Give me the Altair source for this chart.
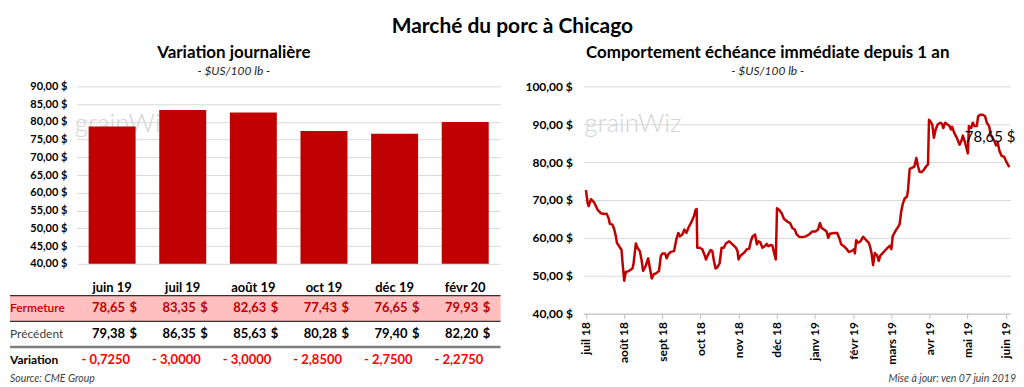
import json
import altair as alt
import pandas as pd

FONT = "Lato"
ROUGE = "#C00000"

# ---------- Données : variation journalière ----------
mois = ["juin 19", "juil 19", "août 19", "oct 19", "déc 19", "févr 20"]
fermeture = [78.65, 83.35, 82.63, 77.43, 76.65, 79.93]
precedent = [79.38, 86.35, 85.63, 80.28, 79.40, 82.20]
variation = [-0.7250, -3.0000, -3.0000, -2.8500, -2.7500, -2.2750]
lignes = ["Fermeture", "Précédent", "Variation"]

# ---------- Données : échéance immédiate (jours depuis le 1er juillet 2018) ----------
jours = [0.1, 1.5, 2.3, 4.1, 6.8, 9.4, 12.1, 14.7, 16.6, 18.2, 19.2, 21.3, 22.7, 24.0, 24.8,
         26.6, 28.5, 29.3, 30.6, 31.9, 34.6, 37.2, 38.0, 39.9, 41.2, 43.1, 44.4, 45.7, 47.8,
         49.7, 51.3, 52.6, 54.2, 56.3, 58.4, 59.8, 61.1, 63.2, 64.5, 65.9, 67.7, 70.4, 72.2,
         73.8, 75.1, 77.0, 78.6, 80.2, 82.3, 84.4, 86.3, 87.6, 88.4, 88.9, 90.8, 92.9, 95.0,
         95.8, 97.7, 99.5, 100.9, 102.2, 103.5, 104.8, 106.7, 108.3, 110.1,
         111.7, 114.4, 117.0, 119.7, 121.0, 121.8, 123.1, 126.3, 128.4, 130.3, 131.6, 132.9,
         135.0, 136.4, 137.7, 139.0, 140.9, 142.7, 144.3, 145.6, 147.5, 148.8, 150.1, 151.5,
         152.5, 154.1, 156.2, 158.1, 160.7, 162.9, 164.7, 166.6, 168.2, 170.0, 172.7, 175.4,
         178.0, 180.7, 183.3, 185.2, 186.7, 188.1, 189.9, 192.0, 193.4, 194.7, 197.9, 200.5,
         202.4, 203.7, 205.8, 207.9, 209.8, 211.9, 213.8, 214.6, 215.6, 217.2, 219.1, 221.2,
         223.0, 225.7,
         226.5, 227.8, 229.1, 230.5, 232.4, 233.6, 235.0, 237.1, 239.0, 241.0, 242.4, 243.7,
         244.8, 246.9, 248.7, 250.3, 251.4, 252.7, 254.3, 256.2, 257.0, 258.3, 260.1, 262.0,
         263.6, 264.9, 266.2, 268.1, 269.9, 271.5, 272.9, 273.7, 274.7, 276.3, 277.6, 279.0,
         280.6, 282.7, 284.0, 285.1, 286.6, 288.5, 290.1, 291.2, 292.2, 293.8, 295.9, 298.1,
         299.4, 300.7, 302.5, 303.9, 304.7, 305.5, 307.3, 308.7, 310.0, 311.8, 312.9, 314.5,
         316.6, 318.4, 319.8, 321.6, 322.9, 324.3, 325.9, 327.2, 328.5, 329.9, 331.7, 333.6,
         335.1, 336.5, 337.8]
prix = [72.6, 69.1, 68.4, 70.2, 69.3, 67.4, 66.5, 66.3, 66.4, 65.2, 63.7, 63.5, 62.2, 60.4, 58.7,
        57.8, 56.8, 53.5, 48.7, 51.0, 51.3, 51.9, 53.0, 58.5, 57.4, 56.5, 54.3, 51.3, 52.6,
        54.6, 51.7, 49.3, 50.4, 50.7, 51.3, 55.2, 55.9, 55.9, 54.6, 55.7, 56.3, 56.5, 59.6,
        61.3, 60.4, 60.9, 62.2, 61.3, 63.0, 64.3, 65.8, 67.4, 67.6, 57.4, 57.4, 57.0, 55.2,
        54.3, 55.7, 56.8, 56.5, 53.9, 51.9, 52.2, 53.3, 57.4, 57.4,
        58.5, 59.1, 58.3, 57.4, 56.5, 54.3, 55.2, 56.1, 57.0, 57.1, 59.1, 60.3,
        60.9, 58.3, 59.1, 58.9, 57.4, 57.8, 58.4, 57.8, 58.1, 58.0, 56.1, 54.3,
        67.8, 67.4, 66.5, 65.0, 64.3, 63.9, 62.6, 62.2, 60.9, 60.3, 60.2, 60.4,
        60.9, 61.7, 61.7, 62.2, 63.9, 62.6, 62.2, 61.7, 60.0, 61.1, 61.3, 61.3,
        59.7, 58.3, 57.8, 57.1, 56.3, 56.5, 57.0, 55.9, 59.4, 58.7, 59.1, 60.3,
        59.6, 58.7,
        57.9, 56.1, 52.8, 56.0, 55.3, 53.9, 55.4, 56.1, 56.8, 57.5, 57.9, 57.0,
        60.5, 61.8, 62.7, 63.6, 66.7, 68.9, 70.4, 70.9, 72.8, 78.2, 78.5, 78.8,
        81.1, 78.9, 77.4, 77.4, 78.1, 78.9, 79.4, 91.2, 90.8, 89.9, 86.4, 88.6,
        89.9, 90.4, 90.1, 89.0, 90.4, 89.9, 89.5, 88.6, 89.3, 87.7, 86.4, 84.6,
        85.5, 87.0, 85.1, 83.3, 82.3, 89.5, 89.0, 90.4, 89.5, 89.5, 92.1, 92.5,
        92.5, 92.1, 90.4, 89.5, 87.3, 86.4, 85.5, 84.4, 85.1, 82.9, 81.6, 81.4,
        80.3, 79.4, 78.65]
etiquettes_x = ["juil 18", "août 18", "sept 18", "oct 18", "nov 18", "déc 18",
                "janv 19", "févr 19", "mars 19", "avr 19", "mai 19", "juin 19"]
graduations_x = [0, 30.45, 60.9, 91.35, 121.8, 152.25, 182.7, 213.15, 243.6, 274.05, 304.5, 334.95]


def fr2(v):
    return f"{v:.2f}".replace(".", ",")


def fr_var(v):
    return ("- " if v < 0 else "+ ") + f"{abs(v):.4f}".replace(".", ",")


EXPR_DOLLAR = "replace(format(datum.value, '.2f'), '.', ',') + ' $'"

# ---------- Panneau gauche : barres + tableau ----------
LW, LH = 425, 178
x_band = alt.Scale(domain=mois, paddingInner=0.335, paddingOuter=0.1675)
bar_df = pd.DataFrame({"mois": mois, "fermeture": fermeture})

filigrane_g = alt.Chart(pd.DataFrame({"t": ["grainWiz"]})).mark_text(
    font=FONT, fontSize=26, fontWeight=300, color="#D4D4D4", align="left", baseline="alphabetic"
).encode(x=alt.value(-2), y=alt.value(46), text="t:N")

bars = alt.Chart(bar_df).mark_bar(color=ROUGE).encode(
    x=alt.X("mois:N", scale=x_band, sort=mois, title=None, axis=None),
    y=alt.Y("fermeture:Q", title=None, scale=alt.Scale(domain=[40, 90], nice=False, zero=False),
            axis=alt.Axis(values=list(range(40, 91, 5)), labelExpr=EXPR_DOLLAR, labelFontSize=11,
                          labelFontWeight="bold", labelColor="#000", labelPadding=10, grid=True,
                          gridColor="#D9D9D9", ticks=False, domain=False)),
    y2=alt.datum(40),
)

rows = []
for i, m in enumerate(mois):
    rows.append({"mois": m, "rang": "Fermeture", "texte": fr2(fermeture[i])})
    rows.append({"mois": m, "rang": "Précédent", "texte": fr2(precedent[i])})
    rows.append({"mois": m, "rang": "Variation", "texte": fr_var(variation[i])})
table_df = pd.DataFrame(rows)

T0, T1 = 210, 287          # zone verticale du tableau (sous le graphique)
step = (T1 - T0) / 3
X_T = alt.X("mois:N", scale=x_band, sort=mois, axis=None)
Y_T = alt.Y("rang:N", scale=alt.Scale(domain=lignes, range=[T0, T1], paddingInner=0, paddingOuter=0),
            axis=None)
one = pd.DataFrame({"a": [0]})

entetes = alt.Chart(bar_df).mark_text(
    align="center", baseline="middle", font=FONT, fontSize=13, fontWeight="bold", color="#000"
).encode(x=X_T, y=alt.value(202), text="mois:N")

fond = alt.Chart(pd.DataFrame({"rang": ["Fermeture"]})).mark_rect(color="#FFBFBF").encode(
    x=alt.value(-67), x2=alt.value(LW), y=Y_T)


def regle(ypix, color, w):
    return alt.Chart(one).mark_rule(color=color, strokeWidth=w).encode(
        x=alt.value(-67), x2=alt.value(LW), y=alt.value(ypix))


def etiquette(rang, color, weight):
    return alt.Chart(pd.DataFrame({"rang": [rang]})).mark_text(
        align="left", baseline="middle", font=FONT, fontSize=12, fontWeight=weight, color=color
    ).encode(x=alt.value(-67), y=Y_T, text="rang:N")


base = alt.Chart(table_df)


def valeurs(rang, color, dx):
    return base.transform_filter(alt.datum.rang == rang).mark_text(
        align="right", baseline="middle", dx=dx, font=FONT, fontSize=13, fontWeight="bold", color=color
    ).encode(x=X_T, y=Y_T, text="texte:N")


def dollars(rang, color):
    return base.transform_filter(alt.datum.rang == rang).mark_text(
        align="right", baseline="middle", dx=25, font=FONT, fontSize=13, fontWeight="bold", color=color
    ).encode(x=X_T, y=Y_T, text=alt.value("$"))


source = alt.Chart(pd.DataFrame({"t": ["Source: CME Group"]})).mark_text(
    align="left", baseline="middle", font=FONT, fontSize=10.5, fontStyle="italic", color="#404040"
).encode(x=alt.value(-67), y=alt.value(294), text="t:N")

left = alt.layer(
    filigrane_g, bars, entetes,
    fond, regle(T0, "#000", 1), regle(T0 + step, "#000", 1), regle(T0 + 2 * step, "#7F7F7F", 2.5),
    etiquette("Fermeture", ROUGE, 600), etiquette("Précédent", "#404040", "normal"),
    etiquette("Variation", "#000", "bold"),
    valeurs("Fermeture", ROUGE, 13), dollars("Fermeture", ROUGE),
    valeurs("Précédent", "#000", 13), dollars("Précédent", "#000"),
    valeurs("Variation", "#FF0000", 18),
    source,
).resolve_scale(y="independent").properties(
    width=LW, height=LH,
    title=alt.TitleParams(
        text="Variation journalière", subtitle="- $US/100 lb -", font=FONT, fontSize=17,
        fontWeight="bold", color="#000", subtitleFont=FONT, subtitleFontSize=12,
        subtitleFontStyle="italic", subtitleColor="#262626", anchor="middle", frame="group",
        dx=-55, offset=2, subtitlePadding=4),
)

# ---------- Panneau droit : courbe ----------
line_df = pd.DataFrame({"jour": jours, "prix": prix})
label_expr_x = json.dumps(etiquettes_x, ensure_ascii=False) + "[round(datum.value / 30.45)]"

X_R = alt.X("jour:Q", title=None, scale=alt.Scale(domain=[-2, 338.3], nice=False, zero=False),
            axis=alt.Axis(values=graduations_x, labelExpr=label_expr_x, labelAngle=-90,
                          labelFontSize=12, labelFontWeight="bold", labelColor="#000", labelPadding=3,
                          grid=False, domain=True, domainColor="#BFBFBF", ticks=True,
                          tickColor="#BFBFBF", tickSize=5))
Y_R = alt.Y("prix:Q", title=None, scale=alt.Scale(domain=[40, 100], nice=False, zero=False),
            axis=alt.Axis(values=list(range(40, 101, 10)), labelExpr=EXPR_DOLLAR, labelFontSize=12,
                          labelFontWeight="bold", labelColor="#000", labelPadding=11, grid=True,
                          gridColor="#D9D9D9", ticks=False, domain=False))

filigrane_d = alt.Chart(pd.DataFrame({"t": ["grainWiz"]})).mark_text(
    font=FONT, fontSize=26, fontWeight=300, color="#D4D4D4", align="left", baseline="alphabetic"
).encode(x=alt.value(1), y=alt.value(46), text="t:N")

ligne = alt.Chart(line_df).mark_line(color=ROUGE, strokeWidth=2.5, strokeJoin="round").encode(x=X_R, y=Y_R)

dernier = pd.DataFrame({"jour": [jours[-1]], "prix": [prix[-1]], "t": [fr2(prix[-1]) + " $"]})
etiquette_fin = alt.Chart(dernier).mark_text(
    align="right", baseline="middle", dx=6, dy=-30, font=FONT, fontSize=15, color="#000"
).encode(x=X_R, y=Y_R, text="t:N")

maj = alt.Chart(pd.DataFrame({"t": ["Mise à jour: ven 07 juin 2019"]})).mark_text(
    align="right", baseline="middle", font=FONT, fontSize=10.5, fontStyle="italic", color="#404040"
).encode(x=alt.value(434), y=alt.value(293.5), text="t:N")

right = alt.layer(filigrane_d, ligne, etiquette_fin, maj).properties(
    width=428, height=228,
    title=alt.TitleParams(
        text="Comportement échéance immédiate depuis 1 an", subtitle="- $US/100 lb -", font=FONT,
        fontSize=17, fontWeight="bold", color="#000", subtitleFont=FONT, subtitleFontSize=12,
        subtitleFontStyle="italic", subtitleColor="#262626", anchor="middle", frame="group",
        dx=-29, offset=2, subtitlePadding=4),
)

chart = alt.hconcat(left, right, spacing=22).properties(
    title=alt.TitleParams("Marché du porc à Chicago", font=FONT, fontSize=21, fontWeight="bold",
                          anchor="middle", offset=7, color="#000"),
    padding={"top": 8, "left": 0, "right": 0, "bottom": 0},
).configure_view(stroke=None).configure_axis(labelFont=FONT).configure_text(font=FONT)

chart.save("out.html", embed_options={"renderer": "svg", "actions": False})
